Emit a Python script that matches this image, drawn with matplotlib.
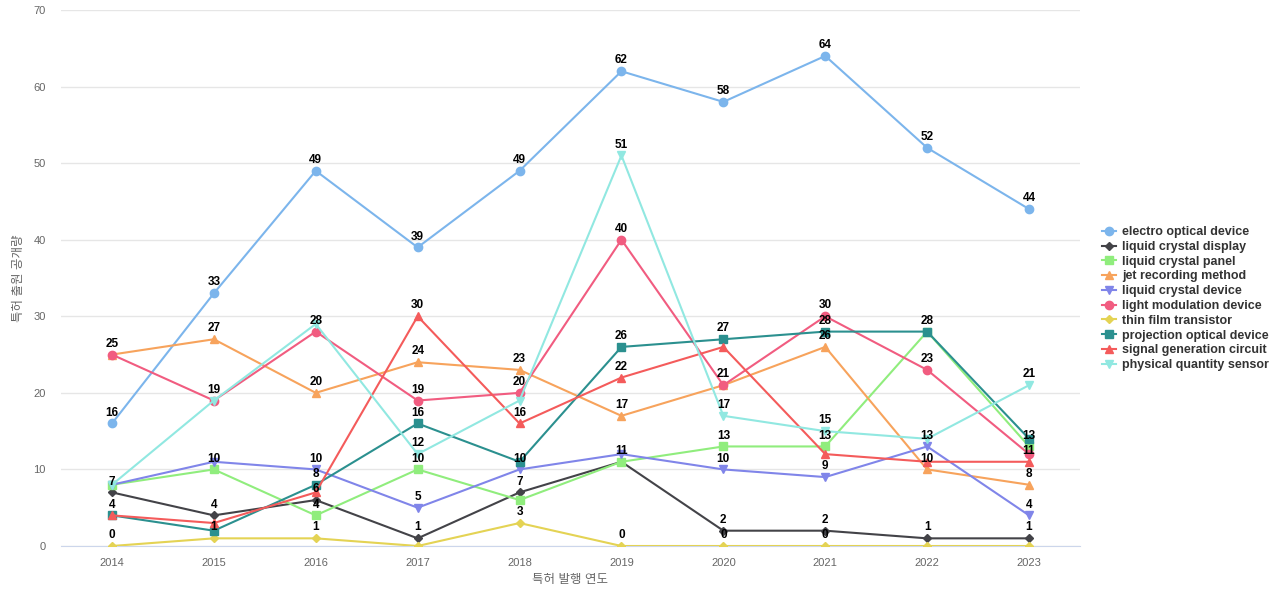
import matplotlib
matplotlib.use("Agg")
import matplotlib.pyplot as plt

plt.rcParams['font.family'] = ['Liberation Sans', 'Noto Sans CJK KR', 'DejaVu Sans']
plt.rcParams['axes.unicode_minus'] = False

# 데이터
years = [2014, 2015, 2016, 2017, 2018, 2019, 2020, 2021, 2022, 2023]
electro_optical = [16, 33, 49, 39, 49, 62, 58, 64, 52, 44]
lc_display = [7, 4, 6, 1, 7, 11, 2, 2, 1, 1]
lc_panel = [8, 10, 4, 10, 6, 11, 13, 13, 28, 13]
jet_recording = [25, 27, 20, 24, 23, 17, 21, 26, 10, 8]
lc_device = [8, 11, 10, 5, 10, 12, 10, 9, 13, 4]
light_modulation = [25, 19, 28, 19, 20, 40, 21, 30, 23, 12]
thin_film = [0, 1, 1, 0, 3, 0, 0, 0, 0, 0]
projection_optical = [4, 2, 8, 16, 11, 26, 27, 28, 28, 14]
signal_generation = [4, 3, 7, 30, 16, 22, 26, 12, 11, 11]
physical_quantity = [8, 19, 29, 12, 19, 51, 17, 15, 14, 21]

series = [
    ("electro optical device", electro_optical, "#7cb5ec", "o"),
    ("liquid crystal display", lc_display, "#434348", "D"),
    ("liquid crystal panel", lc_panel, "#90ed7d", "s"),
    ("jet recording method", jet_recording, "#f7a35c", "^"),
    ("liquid crystal device", lc_device, "#8085e9", "v"),
    ("light modulation device", light_modulation, "#f15c80", "o"),
    ("thin film transistor", thin_film, "#e4d354", "D"),
    ("projection optical device", projection_optical, "#2b908f", "s"),
    ("signal generation circuit", signal_generation, "#f45b5b", "^"),
    ("physical quantity sensor", physical_quantity, "#91e8e1", "v"),
]

fig = plt.figure(figsize=(12.8, 6), dpi=100)
ax = fig.add_axes([61 / 1280, 54 / 600, 1019 / 1280, 536 / 600])

x = list(range(len(years)))
msize = {"o": 6, "D": 4.2, "s": 5.5, "^": 6, "v": 6}
for name, vals, color, mk in series:
    ax.plot(x, vals, color=color, marker=mk, markersize=msize[mk], linewidth=1.5,
            label=name, zorder=3)

ax.set_xlim(-0.5, len(years) - 0.5)
ax.set_ylim(0, 70)
ax.set_yticks(range(0, 71, 10))
ax.set_xticks(x)
ax.set_xticklabels([str(y) for y in years])
ax.tick_params(axis="both", length=0, labelsize=8, colors="#666666")
ax.tick_params(axis="y", pad=11)
ax.tick_params(axis="x", pad=9)
ax.grid(axis="y", color="#e6e6e6", linewidth=1)
ax.set_axisbelow(True)
for s in ["top", "right", "left"]:
    ax.spines[s].set_visible(False)
ax.spines["bottom"].set_color("#ccd6eb")

ax.set_xlabel("특허 발행 연도", fontsize=9, color="#666666", labelpad=4)
ax.set_ylabel("특허 출원 공개량", fontsize=9, color="#666666", labelpad=6)

# 데이터 라벨 (겹치면 숨김, 앞 시리즈 우선)
fig.canvas.draw()
renderer = fig.canvas.get_renderer()
boxes = []
for name, vals, color, mk in series:
    for i, v in enumerate(vals):
        t = ax.annotate(str(v), (i, v), xytext=(0, 3.5), textcoords="offset points",
                        ha="center", va="bottom", fontsize=8.5, fontweight="bold",
                        color="#000000", zorder=5)
        bb = t.get_window_extent(renderer)
        if any(bb.overlaps(b) for b in boxes):
            t.remove()
        else:
            boxes.append(bb)

leg = fig.legend(loc="upper left", bbox_to_anchor=(1096 / 1280, 1 - 220 / 600),
                 frameon=False, fontsize=9, handlelength=1.1, handletextpad=0.5,
                 labelspacing=0.22, borderpad=0)
for t in leg.get_texts():
    t.set_fontweight("bold")
    t.set_color("#333333")

fig.savefig("out.png", dpi=100)
